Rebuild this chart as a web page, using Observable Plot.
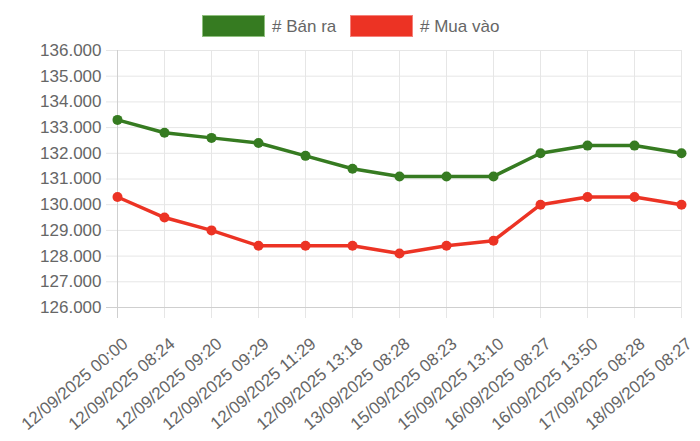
<!DOCTYPE html>
<html>
<head>
<meta charset="utf-8">
<script src="https://cdn.jsdelivr.net/npm/d3@7"></script>
<script src="https://cdn.jsdelivr.net/npm/@observablehq/plot@0.6"></script>
<style>
  html, body { margin: 0; padding: 0; background: #fff; }
  #wrap { position: relative; width: 700px; height: 441px; font-family: "Liberation Sans", Arial, Helvetica, sans-serif; color: #666; }
  #legend { position: relative; height: 38px; }
  .box { position: absolute; top: 15px; width: 61px; height: 20px; border: 1px solid; z-index: 2; }
  .lab { position: absolute; top: 17.6px; font-size: 17px; line-height: 17px; white-space: nowrap; }
  #chart svg { display: block; }
</style>
</head>
<body>
<div id="wrap">
  <div id="legend"></div>
  <div id="chart"></div>
</div>
<script>
const labels = [
  "12/09/2025 00:00", "12/09/2025 08:24", "12/09/2025 09:20", "12/09/2025 09:29",
  "12/09/2025 11:29", "12/09/2025 13:18", "13/09/2025 08:28", "15/09/2025 08:23",
  "15/09/2025 13:10", "16/09/2025 08:27", "16/09/2025 13:50", "17/09/2025 08:28",
  "18/09/2025 08:27"
];
const banRa  = [133300, 132800, 132600, 132400, 131900, 131400, 131100, 131100, 131100, 132000, 132300, 132300, 132000];
const muaVao = [130300, 129500, 129000, 128400, 128400, 128400, 128100, 128400, 128600, 130000, 130300, 130300, 130000];
const yTicks = [126000, 127000, 128000, 129000, 130000, 131000, 132000, 133000, 134000, 135000, 136000];
const seriesNames = ["# Bán ra", "# Mua vào"];
const seriesColors = ["#367b21", "#ec3324"];
const boxBorders = ["#8fc07e", "#f5817a"];

// legend
const legend = document.getElementById("legend");
const legendX = [[202, 272], [350, 420]];
seriesNames.forEach((name, i) => {
  const b = document.createElement("div");
  b.className = "box";
  b.style.left = legendX[i][0] + "px";
  b.style.background = seriesColors[i];
  b.style.borderColor = boxBorders[i];
  legend.appendChild(b);
  const t = document.createElement("span");
  t.className = "lab";
  t.style.left = legendX[i][1] + "px";
  t.textContent = name;
  legend.appendChild(t);
});

const rows = [];
labels.forEach((l, i) => {
  rows.push({label: l, value: banRa[i], series: seriesNames[0]});
});
labels.forEach((l, i) => {
  rows.push({label: l, value: muaVao[i], series: seriesNames[1]});
});

const fmt = d => d3.format(",")(d).replace(/,/g, ".");

const chart = Plot.plot({
  width: 700,
  height: 403,
  marginTop: 12,
  marginBottom: 134,
  marginLeft: 117,
  marginRight: 19,
  style: {fontFamily: "'Liberation Sans', Arial, Helvetica, sans-serif", fontSize: "17px", color: "#666", background: "transparent", overflow: "visible"},
  x: {type: "point", domain: labels, padding: 0, label: null},
  y: {domain: [126000, 136000], label: null},
  color: {domain: seriesNames, range: seriesColors},
  marks: [
    Plot.ruleY(yTicks, {stroke: "#e6e6e6", strokeWidth: 1, insetLeft: -11}),
    Plot.ruleX(labels, {x: d => d, stroke: "#e6e6e6", strokeWidth: 1, insetBottom: -11}),
    Plot.ruleY([126000], {stroke: "#cfcfcf", strokeWidth: 1, insetLeft: -11}),
    Plot.ruleX([labels[0]], {x: d => d, stroke: "#cfcfcf", strokeWidth: 1, insetBottom: -11}),
    Plot.axisY(yTicks, {tickSize: 0, tickPadding: 16, tickFormat: fmt, fontSize: 17, fill: "#666", label: null}),
    Plot.axisX({tickSize: 0, tickPadding: 34, tickRotate: -40, fontSize: 17, fill: "#666", dx: 8, label: null}),
    Plot.line(rows, {x: "label", y: "value", z: "series", stroke: "series", strokeWidth: 3.5}),
    Plot.dot(rows, {x: "label", y: "value", fill: "series", r: 5, stroke: "none"})
  ]
});
document.getElementById("chart").appendChild(chart);
</script>
</body>
</html>
